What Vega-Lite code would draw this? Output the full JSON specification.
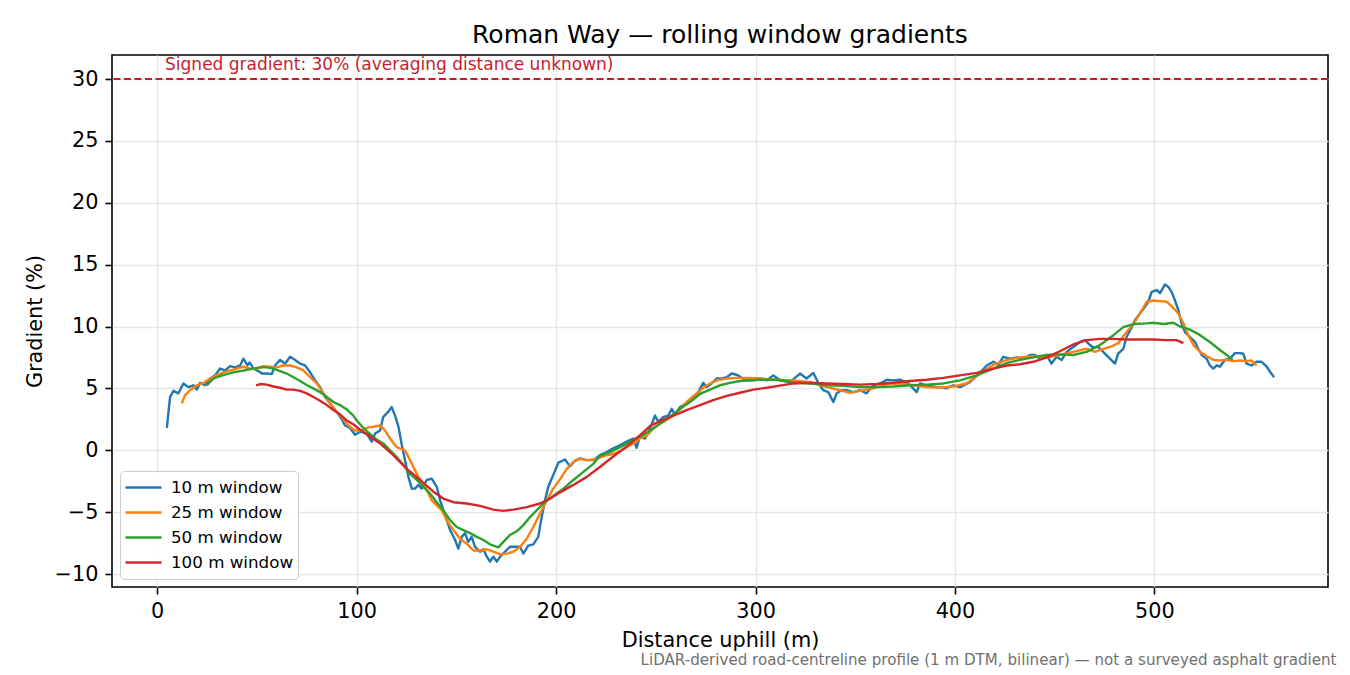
{
"$schema":"https://vega.github.io/schema/vega-lite/v6.json",
"width":1216,"height":532,
"autosize":{"type":"none"},
"padding":{"left":112,"top":55,"right":22,"bottom":88},
"background":"white",
"config":{"font":"DejaVu Sans","view":{"stroke":"black","strokeWidth":1.6}},
"title":{"text":"Roman Way — rolling window gradients","fontSize":25,"fontWeight":"normal","font":"DejaVu Sans","color":"black","anchor":"middle","frame":"group","baseline":"alphabetic","offset":12.7,"dy":26},
"layer":[
{"layer":[
{"data":{"values":[
{"d":4.9,"g":1.8,"w":"10 m window"},{"d":6.5,"g":4.3,"w":"10 m window"},{"d":8.2,"g":4.8,"w":"10 m window"},{"d":10.7,"g":4.6,"w":"10 m window"},{"d":13.2,"g":5.4,"w":"10 m window"},{"d":15.7,"g":5.1,"w":"10 m window"},{"d":18.2,"g":5.25,"w":"10 m window"},{"d":19.9,"g":4.9,"w":"10 m window"},{"d":21.6,"g":5.45,"w":"10 m window"},{"d":24.1,"g":5.25,"w":"10 m window"},{"d":26.6,"g":5.8,"w":"10 m window"},{"d":29.1,"g":6.05,"w":"10 m window"},{"d":31.6,"g":6.6,"w":"10 m window"},{"d":34.1,"g":6.45,"w":"10 m window"},{"d":36.6,"g":6.8,"w":"10 m window"},{"d":39.1,"g":6.7,"w":"10 m window"},{"d":41.6,"g":6.85,"w":"10 m window"},{"d":43.3,"g":7.4,"w":"10 m window"},{"d":45.3,"g":6.85,"w":"10 m window"},{"d":46.4,"g":7.1,"w":"10 m window"},{"d":48.3,"g":6.6,"w":"10 m window"},{"d":50.8,"g":6.4,"w":"10 m window"},{"d":52.5,"g":6.2,"w":"10 m window"},{"d":55,"g":6.2,"w":"10 m window"},{"d":57.5,"g":6.15,"w":"10 m window"},{"d":59.1,"g":6.85,"w":"10 m window"},{"d":61.7,"g":7.3,"w":"10 m window"},{"d":64.2,"g":7.0,"w":"10 m window"},{"d":66.7,"g":7.55,"w":"10 m window"},{"d":69.2,"g":7.3,"w":"10 m window"},{"d":71.7,"g":7.0,"w":"10 m window"},{"d":74.2,"g":6.85,"w":"10 m window"},{"d":76.7,"g":6.3,"w":"10 m window"},{"d":79.2,"g":5.65,"w":"10 m window"},{"d":81.7,"g":5.1,"w":"10 m window"},{"d":84.2,"g":4.3,"w":"10 m window"},{"d":86.7,"g":3.8,"w":"10 m window"},{"d":90,"g":3.1,"w":"10 m window"},{"d":92.6,"g":2.5,"w":"10 m window"},{"d":94.2,"g":2.0,"w":"10 m window"},{"d":96.7,"g":1.8,"w":"10 m window"},{"d":99.2,"g":1.25,"w":"10 m window"},{"d":101.8,"g":1.5,"w":"10 m window"},{"d":105.1,"g":1.35,"w":"10 m window"},{"d":107.6,"g":0.7,"w":"10 m window"},{"d":109.3,"g":1.35,"w":"10 m window"},{"d":111.8,"g":1.6,"w":"10 m window"},{"d":113.4,"g":2.7,"w":"10 m window"},{"d":115.9,"g":3.1,"w":"10 m window"},{"d":117.6,"g":3.5,"w":"10 m window"},{"d":119.3,"g":2.8,"w":"10 m window"},{"d":121,"g":1.9,"w":"10 m window"},{"d":122.6,"g":0.5,"w":"10 m window"},{"d":124.3,"g":-0.8,"w":"10 m window"},{"d":126,"g":-2.15,"w":"10 m window"},{"d":127.7,"g":-3.1,"w":"10 m window"},{"d":129.3,"g":-3.1,"w":"10 m window"},{"d":131,"g":-2.8,"w":"10 m window"},{"d":132.7,"g":-3.1,"w":"10 m window"},{"d":135.2,"g":-2.4,"w":"10 m window"},{"d":137.7,"g":-2.3,"w":"10 m window"},{"d":140.2,"g":-2.95,"w":"10 m window"},{"d":141.9,"g":-4.05,"w":"10 m window"},{"d":144.4,"g":-5.25,"w":"10 m window"},{"d":146.9,"g":-6.45,"w":"10 m window"},{"d":149.4,"g":-7.25,"w":"10 m window"},{"d":151,"g":-7.95,"w":"10 m window"},{"d":152.7,"g":-7.0,"w":"10 m window"},{"d":154.4,"g":-6.7,"w":"10 m window"},{"d":156,"g":-7.4,"w":"10 m window"},{"d":157.7,"g":-7.0,"w":"10 m window"},{"d":159.4,"g":-7.8,"w":"10 m window"},{"d":161.9,"g":-8.2,"w":"10 m window"},{"d":163.6,"g":-8.0,"w":"10 m window"},{"d":165.3,"g":-8.6,"w":"10 m window"},{"d":166.9,"g":-9.0,"w":"10 m window"},{"d":168.6,"g":-8.6,"w":"10 m window"},{"d":170.3,"g":-9.0,"w":"10 m window"},{"d":172,"g":-8.6,"w":"10 m window"},{"d":174.4,"g":-8.2,"w":"10 m window"},{"d":176.9,"g":-7.8,"w":"10 m window"},{"d":179.4,"g":-7.8,"w":"10 m window"},{"d":182,"g":-7.8,"w":"10 m window"},{"d":183.6,"g":-8.35,"w":"10 m window"},{"d":186.1,"g":-7.7,"w":"10 m window"},{"d":188.6,"g":-7.6,"w":"10 m window"},{"d":191.1,"g":-7.0,"w":"10 m window"},{"d":192.8,"g":-5.4,"w":"10 m window"},{"d":194.5,"g":-4.05,"w":"10 m window"},{"d":196.1,"g":-2.95,"w":"10 m window"},{"d":198.6,"g":-2.0,"w":"10 m window"},{"d":201.2,"g":-1.0,"w":"10 m window"},{"d":204.5,"g":-0.75,"w":"10 m window"},{"d":207,"g":-1.3,"w":"10 m window"},{"d":209.5,"g":-0.85,"w":"10 m window"},{"d":212,"g":-0.65,"w":"10 m window"},{"d":215.4,"g":-0.8,"w":"10 m window"},{"d":218.7,"g":-0.8,"w":"10 m window"},{"d":222,"g":-0.4,"w":"10 m window"},{"d":225.4,"g":-0.15,"w":"10 m window"},{"d":228.7,"g":0.15,"w":"10 m window"},{"d":232,"g":0.4,"w":"10 m window"},{"d":235.4,"g":0.7,"w":"10 m window"},{"d":238.7,"g":0.95,"w":"10 m window"},{"d":240.4,"g":0.2,"w":"10 m window"},{"d":242,"g":1.1,"w":"10 m window"},{"d":244.6,"g":0.95,"w":"10 m window"},{"d":247.1,"g":1.75,"w":"10 m window"},{"d":249.6,"g":2.8,"w":"10 m window"},{"d":251.3,"g":2.3,"w":"10 m window"},{"d":253.8,"g":2.7,"w":"10 m window"},{"d":256.3,"g":2.8,"w":"10 m window"},{"d":258,"g":3.35,"w":"10 m window"},{"d":259.6,"g":2.9,"w":"10 m window"},{"d":262.2,"g":3.5,"w":"10 m window"},{"d":265.5,"g":3.8,"w":"10 m window"},{"d":268.8,"g":4.3,"w":"10 m window"},{"d":271.3,"g":4.7,"w":"10 m window"},{"d":273.8,"g":5.45,"w":"10 m window"},{"d":275.5,"g":5.1,"w":"10 m window"},{"d":278,"g":5.4,"w":"10 m window"},{"d":280.5,"g":5.8,"w":"10 m window"},{"d":283,"g":5.8,"w":"10 m window"},{"d":285.6,"g":5.9,"w":"10 m window"},{"d":288,"g":6.2,"w":"10 m window"},{"d":290.6,"g":6.1,"w":"10 m window"},{"d":293.1,"g":5.85,"w":"10 m window"},{"d":295.6,"g":5.65,"w":"10 m window"},{"d":298.9,"g":5.65,"w":"10 m window"},{"d":302.3,"g":5.8,"w":"10 m window"},{"d":305.6,"g":5.65,"w":"10 m window"},{"d":308.9,"g":6.05,"w":"10 m window"},{"d":312.3,"g":5.65,"w":"10 m window"},{"d":317.3,"g":5.5,"w":"10 m window"},{"d":322.3,"g":6.2,"w":"10 m window"},{"d":325.6,"g":5.8,"w":"10 m window"},{"d":329,"g":6.25,"w":"10 m window"},{"d":331.6,"g":5.4,"w":"10 m window"},{"d":334,"g":4.85,"w":"10 m window"},{"d":336.5,"g":4.7,"w":"10 m window"},{"d":339,"g":3.9,"w":"10 m window"},{"d":340.7,"g":4.6,"w":"10 m window"},{"d":343.2,"g":4.85,"w":"10 m window"},{"d":345.7,"g":4.85,"w":"10 m window"},{"d":349,"g":4.7,"w":"10 m window"},{"d":352.4,"g":4.85,"w":"10 m window"},{"d":355.7,"g":4.6,"w":"10 m window"},{"d":359.1,"g":5.25,"w":"10 m window"},{"d":362.4,"g":5.4,"w":"10 m window"},{"d":365.8,"g":5.7,"w":"10 m window"},{"d":369.1,"g":5.65,"w":"10 m window"},{"d":372.4,"g":5.7,"w":"10 m window"},{"d":376.6,"g":5.4,"w":"10 m window"},{"d":380.8,"g":4.7,"w":"10 m window"},{"d":382.5,"g":5.4,"w":"10 m window"},{"d":385.8,"g":5.25,"w":"10 m window"},{"d":390.8,"g":5.1,"w":"10 m window"},{"d":395.8,"g":5.0,"w":"10 m window"},{"d":399.1,"g":5.25,"w":"10 m window"},{"d":402.5,"g":5.1,"w":"10 m window"},{"d":407.5,"g":5.5,"w":"10 m window"},{"d":412.5,"g":6.25,"w":"10 m window"},{"d":415.9,"g":6.85,"w":"10 m window"},{"d":419.2,"g":7.15,"w":"10 m window"},{"d":421.7,"g":6.9,"w":"10 m window"},{"d":424.2,"g":7.55,"w":"10 m window"},{"d":427.6,"g":7.4,"w":"10 m window"},{"d":430.9,"g":7.5,"w":"10 m window"},{"d":434.2,"g":7.4,"w":"10 m window"},{"d":437.6,"g":7.7,"w":"10 m window"},{"d":440.1,"g":7.7,"w":"10 m window"},{"d":442.6,"g":7.4,"w":"10 m window"},{"d":445.9,"g":7.7,"w":"10 m window"},{"d":448.4,"g":7.0,"w":"10 m window"},{"d":450.9,"g":7.55,"w":"10 m window"},{"d":453.5,"g":7.3,"w":"10 m window"},{"d":456,"g":7.95,"w":"10 m window"},{"d":459.3,"g":8.35,"w":"10 m window"},{"d":462.7,"g":8.75,"w":"10 m window"},{"d":465.2,"g":8.9,"w":"10 m window"},{"d":467.7,"g":8.5,"w":"10 m window"},{"d":469.4,"g":8.3,"w":"10 m window"},{"d":471.8,"g":8.35,"w":"10 m window"},{"d":474.3,"g":7.95,"w":"10 m window"},{"d":476.8,"g":7.55,"w":"10 m window"},{"d":480.2,"g":7.0,"w":"10 m window"},{"d":481.8,"g":7.8,"w":"10 m window"},{"d":484.4,"g":8.2,"w":"10 m window"},{"d":486,"g":9.15,"w":"10 m window"},{"d":488.6,"g":9.95,"w":"10 m window"},{"d":490.2,"g":10.5,"w":"10 m window"},{"d":492.7,"g":11.05,"w":"10 m window"},{"d":495.2,"g":11.6,"w":"10 m window"},{"d":496.9,"g":12.0,"w":"10 m window"},{"d":498.6,"g":12.8,"w":"10 m window"},{"d":501.1,"g":12.95,"w":"10 m window"},{"d":502.8,"g":12.7,"w":"10 m window"},{"d":505.3,"g":13.4,"w":"10 m window"},{"d":507,"g":13.2,"w":"10 m window"},{"d":508.6,"g":12.8,"w":"10 m window"},{"d":510.3,"g":12.1,"w":"10 m window"},{"d":512,"g":11.3,"w":"10 m window"},{"d":513.6,"g":10.25,"w":"10 m window"},{"d":515.3,"g":9.55,"w":"10 m window"},{"d":517.8,"g":9.15,"w":"10 m window"},{"d":520.3,"g":8.75,"w":"10 m window"},{"d":522,"g":8.2,"w":"10 m window"},{"d":523.7,"g":7.7,"w":"10 m window"},{"d":526.2,"g":7.4,"w":"10 m window"},{"d":527.8,"g":6.85,"w":"10 m window"},{"d":529.5,"g":6.6,"w":"10 m window"},{"d":531.2,"g":6.85,"w":"10 m window"},{"d":532.8,"g":6.75,"w":"10 m window"},{"d":535.3,"g":7.3,"w":"10 m window"},{"d":537.8,"g":7.4,"w":"10 m window"},{"d":540.4,"g":7.85,"w":"10 m window"},{"d":542.9,"g":7.85,"w":"10 m window"},{"d":544.5,"g":7.8,"w":"10 m window"},{"d":546.2,"g":7.0,"w":"10 m window"},{"d":548.7,"g":6.85,"w":"10 m window"},{"d":551.2,"g":7.15,"w":"10 m window"},{"d":553.7,"g":7.15,"w":"10 m window"},{"d":556.3,"g":6.75,"w":"10 m window"},{"d":557.9,"g":6.35,"w":"10 m window"},{"d":560,"g":5.9,"w":"10 m window"},
{"d":12.4,"g":3.8,"w":"25 m window"},{"d":14,"g":4.45,"w":"25 m window"},{"d":16.5,"g":4.85,"w":"25 m window"},{"d":19.9,"g":5.25,"w":"25 m window"},{"d":23.3,"g":5.45,"w":"25 m window"},{"d":26.6,"g":5.8,"w":"25 m window"},{"d":29.9,"g":6.05,"w":"25 m window"},{"d":33.2,"g":6.3,"w":"25 m window"},{"d":36.6,"g":6.45,"w":"25 m window"},{"d":39.9,"g":6.6,"w":"25 m window"},{"d":43.3,"g":6.75,"w":"25 m window"},{"d":46.6,"g":6.6,"w":"25 m window"},{"d":50,"g":6.6,"w":"25 m window"},{"d":53.3,"g":6.8,"w":"25 m window"},{"d":56.6,"g":6.75,"w":"25 m window"},{"d":60,"g":6.7,"w":"25 m window"},{"d":63.3,"g":6.85,"w":"25 m window"},{"d":66.7,"g":6.85,"w":"25 m window"},{"d":70,"g":6.7,"w":"25 m window"},{"d":73.3,"g":6.45,"w":"25 m window"},{"d":76.7,"g":5.9,"w":"25 m window"},{"d":80,"g":5.4,"w":"25 m window"},{"d":83.4,"g":4.6,"w":"25 m window"},{"d":86.7,"g":3.8,"w":"25 m window"},{"d":90,"g":3.1,"w":"25 m window"},{"d":92.5,"g":2.7,"w":"25 m window"},{"d":95,"g":2.15,"w":"25 m window"},{"d":97.5,"g":1.8,"w":"25 m window"},{"d":99.2,"g":1.6,"w":"25 m window"},{"d":102.6,"g":1.6,"w":"25 m window"},{"d":105.9,"g":1.85,"w":"25 m window"},{"d":108.4,"g":1.9,"w":"25 m window"},{"d":111.8,"g":2.0,"w":"25 m window"},{"d":114.2,"g":1.6,"w":"25 m window"},{"d":116.8,"g":0.95,"w":"25 m window"},{"d":120.1,"g":0.25,"w":"25 m window"},{"d":124.3,"g":0,"w":"25 m window"},{"d":127.7,"g":-1.1,"w":"25 m window"},{"d":131,"g":-2.15,"w":"25 m window"},{"d":134.4,"g":-2.95,"w":"25 m window"},{"d":137.7,"g":-4.05,"w":"25 m window"},{"d":141.1,"g":-4.6,"w":"25 m window"},{"d":142.7,"g":-4.85,"w":"25 m window"},{"d":145.2,"g":-5.65,"w":"25 m window"},{"d":148.5,"g":-6.45,"w":"25 m window"},{"d":151.9,"g":-7.15,"w":"25 m window"},{"d":155.2,"g":-7.55,"w":"25 m window"},{"d":158.6,"g":-8.1,"w":"25 m window"},{"d":161.9,"g":-8.1,"w":"25 m window"},{"d":165.3,"g":-8.0,"w":"25 m window"},{"d":168.6,"g":-8.2,"w":"25 m window"},{"d":171.9,"g":-8.4,"w":"25 m window"},{"d":175.3,"g":-8.35,"w":"25 m window"},{"d":178.6,"g":-8.2,"w":"25 m window"},{"d":182,"g":-7.8,"w":"25 m window"},{"d":185.3,"g":-7.15,"w":"25 m window"},{"d":188.6,"g":-6.2,"w":"25 m window"},{"d":192,"g":-5.1,"w":"25 m window"},{"d":195.3,"g":-4.05,"w":"25 m window"},{"d":198.6,"g":-3.1,"w":"25 m window"},{"d":202,"g":-2.35,"w":"25 m window"},{"d":205.4,"g":-1.5,"w":"25 m window"},{"d":208.7,"g":-0.95,"w":"25 m window"},{"d":212,"g":-0.7,"w":"25 m window"},{"d":215.4,"g":-0.8,"w":"25 m window"},{"d":218.7,"g":-0.75,"w":"25 m window"},{"d":222,"g":-0.6,"w":"25 m window"},{"d":225.4,"g":-0.4,"w":"25 m window"},{"d":228.7,"g":-0.3,"w":"25 m window"},{"d":232,"g":-0.1,"w":"25 m window"},{"d":235.4,"g":0.25,"w":"25 m window"},{"d":238.7,"g":0.55,"w":"25 m window"},{"d":242,"g":0.95,"w":"25 m window"},{"d":245.5,"g":1.2,"w":"25 m window"},{"d":248.8,"g":1.75,"w":"25 m window"},{"d":252.1,"g":2.15,"w":"25 m window"},{"d":255.5,"g":2.45,"w":"25 m window"},{"d":258.8,"g":2.8,"w":"25 m window"},{"d":262.2,"g":3.3,"w":"25 m window"},{"d":265.5,"g":3.9,"w":"25 m window"},{"d":270.5,"g":4.6,"w":"25 m window"},{"d":275.5,"g":5.25,"w":"25 m window"},{"d":280.5,"g":5.65,"w":"25 m window"},{"d":285.6,"g":5.8,"w":"25 m window"},{"d":290.6,"g":5.85,"w":"25 m window"},{"d":295.6,"g":5.85,"w":"25 m window"},{"d":302.3,"g":5.8,"w":"25 m window"},{"d":310.6,"g":5.7,"w":"25 m window"},{"d":318.9,"g":5.65,"w":"25 m window"},{"d":327.3,"g":5.5,"w":"25 m window"},{"d":335.7,"g":5.1,"w":"25 m window"},{"d":342.4,"g":4.85,"w":"25 m window"},{"d":347.4,"g":4.65,"w":"25 m window"},{"d":352.4,"g":4.8,"w":"25 m window"},{"d":359.1,"g":5.0,"w":"25 m window"},{"d":365.8,"g":5.35,"w":"25 m window"},{"d":372.4,"g":5.4,"w":"25 m window"},{"d":379.1,"g":5.25,"w":"25 m window"},{"d":385.8,"g":5.1,"w":"25 m window"},{"d":392.5,"g":5.05,"w":"25 m window"},{"d":399.2,"g":5.15,"w":"25 m window"},{"d":405.8,"g":5.4,"w":"25 m window"},{"d":412.5,"g":6.2,"w":"25 m window"},{"d":419.2,"g":6.9,"w":"25 m window"},{"d":425.9,"g":7.3,"w":"25 m window"},{"d":432.6,"g":7.5,"w":"25 m window"},{"d":439.3,"g":7.6,"w":"25 m window"},{"d":446,"g":7.5,"w":"25 m window"},{"d":452.6,"g":7.7,"w":"25 m window"},{"d":459.3,"g":7.95,"w":"25 m window"},{"d":466,"g":8.2,"w":"25 m window"},{"d":470.2,"g":7.95,"w":"25 m window"},{"d":474.3,"g":8.2,"w":"25 m window"},{"d":478.5,"g":8.4,"w":"25 m window"},{"d":481.9,"g":8.65,"w":"25 m window"},{"d":485.2,"g":9.4,"w":"25 m window"},{"d":489.4,"g":10.2,"w":"25 m window"},{"d":492.7,"g":11.05,"w":"25 m window"},{"d":496.1,"g":12.0,"w":"25 m window"},{"d":499.4,"g":12.1,"w":"25 m window"},{"d":502.8,"g":12.05,"w":"25 m window"},{"d":506.1,"g":12.0,"w":"25 m window"},{"d":508.6,"g":11.65,"w":"25 m window"},{"d":512,"g":11.05,"w":"25 m window"},{"d":514.5,"g":10.25,"w":"25 m window"},{"d":517,"g":9.3,"w":"25 m window"},{"d":519.5,"g":8.5,"w":"25 m window"},{"d":522.9,"g":7.95,"w":"25 m window"},{"d":526.2,"g":7.6,"w":"25 m window"},{"d":529.5,"g":7.3,"w":"25 m window"},{"d":532.8,"g":7.25,"w":"25 m window"},{"d":536.2,"g":7.3,"w":"25 m window"},{"d":539.5,"g":7.2,"w":"25 m window"},{"d":542.9,"g":7.25,"w":"25 m window"},{"d":546.2,"g":7.2,"w":"25 m window"},{"d":548.7,"g":7.25,"w":"25 m window"},{"d":551.2,"g":6.85,"w":"25 m window"},
{"d":24.9,"g":5.25,"w":"50 m window"},{"d":28.3,"g":5.8,"w":"50 m window"},{"d":31.6,"g":6.0,"w":"50 m window"},{"d":34.9,"g":6.15,"w":"50 m window"},{"d":38.2,"g":6.3,"w":"50 m window"},{"d":41.6,"g":6.4,"w":"50 m window"},{"d":45,"g":6.5,"w":"50 m window"},{"d":48.3,"g":6.6,"w":"50 m window"},{"d":51.6,"g":6.7,"w":"50 m window"},{"d":55,"g":6.7,"w":"50 m window"},{"d":58.3,"g":6.6,"w":"50 m window"},{"d":61.7,"g":6.4,"w":"50 m window"},{"d":65,"g":6.2,"w":"50 m window"},{"d":68.4,"g":5.9,"w":"50 m window"},{"d":71.7,"g":5.6,"w":"50 m window"},{"d":75.2,"g":5.25,"w":"50 m window"},{"d":78.3,"g":5.0,"w":"50 m window"},{"d":81.7,"g":4.7,"w":"50 m window"},{"d":85.1,"g":4.3,"w":"50 m window"},{"d":88.4,"g":3.9,"w":"50 m window"},{"d":91.7,"g":3.65,"w":"50 m window"},{"d":95.1,"g":3.3,"w":"50 m window"},{"d":98.4,"g":2.8,"w":"50 m window"},{"d":100.1,"g":2.4,"w":"50 m window"},{"d":103.4,"g":1.8,"w":"50 m window"},{"d":106.8,"g":1.3,"w":"50 m window"},{"d":110.1,"g":0.85,"w":"50 m window"},{"d":113.4,"g":0.55,"w":"50 m window"},{"d":116.8,"g":0,"w":"50 m window"},{"d":120.1,"g":-0.55,"w":"50 m window"},{"d":123.5,"g":-1.2,"w":"50 m window"},{"d":126.8,"g":-1.9,"w":"50 m window"},{"d":130.2,"g":-2.4,"w":"50 m window"},{"d":133.5,"g":-2.95,"w":"50 m window"},{"d":136.8,"g":-3.5,"w":"50 m window"},{"d":140.2,"g":-4.2,"w":"50 m window"},{"d":143.5,"g":-4.85,"w":"50 m window"},{"d":146.9,"g":-5.65,"w":"50 m window"},{"d":150.2,"g":-6.2,"w":"50 m window"},{"d":153.5,"g":-6.45,"w":"50 m window"},{"d":156.9,"g":-6.7,"w":"50 m window"},{"d":160.3,"g":-7.0,"w":"50 m window"},{"d":163.6,"g":-7.25,"w":"50 m window"},{"d":166.9,"g":-7.6,"w":"50 m window"},{"d":171.1,"g":-7.85,"w":"50 m window"},{"d":173.6,"g":-7.4,"w":"50 m window"},{"d":176.9,"g":-6.85,"w":"50 m window"},{"d":180.3,"g":-6.55,"w":"50 m window"},{"d":183.6,"g":-6.05,"w":"50 m window"},{"d":187,"g":-5.4,"w":"50 m window"},{"d":190.3,"g":-4.85,"w":"50 m window"},{"d":193.6,"g":-4.3,"w":"50 m window"},{"d":197,"g":-3.9,"w":"50 m window"},{"d":200.3,"g":-3.5,"w":"50 m window"},{"d":203.7,"g":-3.1,"w":"50 m window"},{"d":208.7,"g":-2.4,"w":"50 m window"},{"d":213.7,"g":-1.75,"w":"50 m window"},{"d":218.7,"g":-1.1,"w":"50 m window"},{"d":222,"g":-0.45,"w":"50 m window"},{"d":227.1,"g":-0.15,"w":"50 m window"},{"d":232.1,"g":0.25,"w":"50 m window"},{"d":237.1,"g":0.7,"w":"50 m window"},{"d":242.1,"g":1.1,"w":"50 m window"},{"d":247.1,"g":1.6,"w":"50 m window"},{"d":252.1,"g":2.15,"w":"50 m window"},{"d":257.1,"g":2.7,"w":"50 m window"},{"d":262.2,"g":3.35,"w":"50 m window"},{"d":267.2,"g":3.9,"w":"50 m window"},{"d":272.2,"g":4.55,"w":"50 m window"},{"d":277.1,"g":4.9,"w":"50 m window"},{"d":282.2,"g":5.25,"w":"50 m window"},{"d":287.2,"g":5.45,"w":"50 m window"},{"d":292.2,"g":5.6,"w":"50 m window"},{"d":297.2,"g":5.65,"w":"50 m window"},{"d":302.3,"g":5.7,"w":"50 m window"},{"d":310.6,"g":5.7,"w":"50 m window"},{"d":318.9,"g":5.5,"w":"50 m window"},{"d":327.3,"g":5.4,"w":"50 m window"},{"d":335.7,"g":5.25,"w":"50 m window"},{"d":344,"g":5.2,"w":"50 m window"},{"d":352.4,"g":5.1,"w":"50 m window"},{"d":360.8,"g":5.1,"w":"50 m window"},{"d":369.1,"g":5.15,"w":"50 m window"},{"d":377.5,"g":5.25,"w":"50 m window"},{"d":385.8,"g":5.3,"w":"50 m window"},{"d":394.2,"g":5.4,"w":"50 m window"},{"d":402.5,"g":5.65,"w":"50 m window"},{"d":410.9,"g":6.05,"w":"50 m window"},{"d":419.2,"g":6.6,"w":"50 m window"},{"d":425.9,"g":7.05,"w":"50 m window"},{"d":432.6,"g":7.3,"w":"50 m window"},{"d":439.3,"g":7.5,"w":"50 m window"},{"d":446,"g":7.7,"w":"50 m window"},{"d":452.6,"g":7.75,"w":"50 m window"},{"d":459.3,"g":7.7,"w":"50 m window"},{"d":466,"g":7.95,"w":"50 m window"},{"d":472.7,"g":8.5,"w":"50 m window"},{"d":479.4,"g":9.3,"w":"50 m window"},{"d":484.4,"g":9.95,"w":"50 m window"},{"d":489.4,"g":10.2,"w":"50 m window"},{"d":496.1,"g":10.25,"w":"50 m window"},{"d":499.4,"g":10.3,"w":"50 m window"},{"d":504.5,"g":10.2,"w":"50 m window"},{"d":509.5,"g":10.3,"w":"50 m window"},{"d":512.8,"g":10.0,"w":"50 m window"},{"d":517.8,"g":9.75,"w":"50 m window"},{"d":522.9,"g":9.3,"w":"50 m window"},{"d":527.8,"g":8.75,"w":"50 m window"},{"d":532.8,"g":8.1,"w":"50 m window"},{"d":536.2,"g":7.7,"w":"50 m window"},{"d":539.2,"g":7.3,"w":"50 m window"},
{"d":49.6,"g":5.25,"w":"100 m window"},{"d":51.6,"g":5.35,"w":"100 m window"},{"d":55,"g":5.3,"w":"100 m window"},{"d":58.3,"g":5.15,"w":"100 m window"},{"d":61.7,"g":5.05,"w":"100 m window"},{"d":65,"g":4.9,"w":"100 m window"},{"d":68.3,"g":4.9,"w":"100 m window"},{"d":71.7,"g":4.8,"w":"100 m window"},{"d":75,"g":4.6,"w":"100 m window"},{"d":78.4,"g":4.3,"w":"100 m window"},{"d":81.7,"g":4.0,"w":"100 m window"},{"d":85.1,"g":3.65,"w":"100 m window"},{"d":88.4,"g":3.25,"w":"100 m window"},{"d":91.7,"g":2.9,"w":"100 m window"},{"d":95.1,"g":2.4,"w":"100 m window"},{"d":98.4,"g":2.1,"w":"100 m window"},{"d":101.4,"g":1.7,"w":"100 m window"},{"d":105.1,"g":1.3,"w":"100 m window"},{"d":111.8,"g":0.55,"w":"100 m window"},{"d":118.4,"g":-0.4,"w":"100 m window"},{"d":125.2,"g":-1.5,"w":"100 m window"},{"d":131.8,"g":-2.4,"w":"100 m window"},{"d":138.5,"g":-3.35,"w":"100 m window"},{"d":143.5,"g":-3.9,"w":"100 m window"},{"d":148.5,"g":-4.2,"w":"100 m window"},{"d":155.2,"g":-4.3,"w":"100 m window"},{"d":161.9,"g":-4.5,"w":"100 m window"},{"d":168.6,"g":-4.8,"w":"100 m window"},{"d":173.6,"g":-4.9,"w":"100 m window"},{"d":178.6,"g":-4.8,"w":"100 m window"},{"d":185.3,"g":-4.6,"w":"100 m window"},{"d":192,"g":-4.3,"w":"100 m window"},{"d":197,"g":-3.9,"w":"100 m window"},{"d":202,"g":-3.4,"w":"100 m window"},{"d":208.7,"g":-2.8,"w":"100 m window"},{"d":215.4,"g":-2.15,"w":"100 m window"},{"d":222,"g":-1.35,"w":"100 m window"},{"d":228.7,"g":-0.5,"w":"100 m window"},{"d":235.4,"g":0.3,"w":"100 m window"},{"d":242,"g":1.2,"w":"100 m window"},{"d":247.1,"g":1.95,"w":"100 m window"},{"d":252.1,"g":2.35,"w":"100 m window"},{"d":258.8,"g":2.8,"w":"100 m window"},{"d":265.5,"g":3.25,"w":"100 m window"},{"d":272.2,"g":3.65,"w":"100 m window"},{"d":278.8,"g":4.05,"w":"100 m window"},{"d":285.6,"g":4.4,"w":"100 m window"},{"d":292.2,"g":4.65,"w":"100 m window"},{"d":298.9,"g":4.9,"w":"100 m window"},{"d":305.6,"g":5.05,"w":"100 m window"},{"d":311.4,"g":5.2,"w":"100 m window"},{"d":318.9,"g":5.4,"w":"100 m window"},{"d":327.3,"g":5.45,"w":"100 m window"},{"d":335.7,"g":5.4,"w":"100 m window"},{"d":344,"g":5.35,"w":"100 m window"},{"d":352.4,"g":5.3,"w":"100 m window"},{"d":360.8,"g":5.35,"w":"100 m window"},{"d":369.1,"g":5.45,"w":"100 m window"},{"d":377.4,"g":5.6,"w":"100 m window"},{"d":385.8,"g":5.7,"w":"100 m window"},{"d":394.1,"g":5.85,"w":"100 m window"},{"d":402.5,"g":6.05,"w":"100 m window"},{"d":410.9,"g":6.25,"w":"100 m window"},{"d":419.2,"g":6.6,"w":"100 m window"},{"d":425.9,"g":6.85,"w":"100 m window"},{"d":432.6,"g":6.95,"w":"100 m window"},{"d":439.3,"g":7.15,"w":"100 m window"},{"d":446,"g":7.5,"w":"100 m window"},{"d":452.6,"g":8.0,"w":"100 m window"},{"d":459.3,"g":8.55,"w":"100 m window"},{"d":466,"g":8.9,"w":"100 m window"},{"d":472.7,"g":9.0,"w":"100 m window"},{"d":479.4,"g":9.0,"w":"100 m window"},{"d":486,"g":8.95,"w":"100 m window"},{"d":492.7,"g":8.95,"w":"100 m window"},{"d":499.4,"g":8.95,"w":"100 m window"},{"d":506.1,"g":8.9,"w":"100 m window"},{"d":511.1,"g":8.9,"w":"100 m window"},{"d":514.5,"g":8.65,"w":"100 m window"}
]},
"mark":{"type":"line","strokeWidth":2.4,"strokeJoin":"round","strokeCap":"butt"},
"encoding":{
"x":{"field":"d","type":"quantitative","title":"Distance uphill (m)","scale":{"domain":[-22.6,587],"nice":false,"zero":false},
"axis":{"values":[0,100,200,300,400,500],"domain":false,"ticks":true,"tickSize":7,"tickWidth":1.6,"tickColor":"black","labelFontSize":20.8,"labelColor":"black","labelPadding":7,"labelFont":"DejaVu Sans","grid":true,"gridColor":"#e6e6e6","gridWidth":1.3,"titleFontSize":20.8,"titleFontWeight":"normal","titleColor":"black","titleFont":"DejaVu Sans","titlePadding":10}},
"y":{"field":"g","type":"quantitative","title":"Gradient (%)","scale":{"domain":[-11.05,31.94],"nice":false,"zero":false},
"axis":{"values":[-10,-5,0,5,10,15,20,25,30],"domain":false,"ticks":true,"tickSize":7,"tickWidth":1.6,"tickColor":"black","labelFontSize":20.8,"labelColor":"black","labelPadding":7,"labelFont":"DejaVu Sans","grid":true,"gridColor":"#e6e6e6","gridWidth":1.3,"titleFontSize":20.8,"titleFontWeight":"normal","titleColor":"black","titleFont":"DejaVu Sans","titlePadding":9}},
"color":{"field":"w","type":"nominal","scale":{"domain":["10 m window","25 m window","50 m window","100 m window"],"range":["#1f77b4","#ff7f0e","#2ca02c","#d62728"]},
"legend":{"title":null,"orient":"bottom-left","offset":8,"fillColor":"rgba(255,255,255,0.85)","strokeColor":"#cccccc","cornerRadius":4,"padding":4,"symbolType":"stroke","symbolSize":1296,"symbolStrokeWidth":2.4,"labelFontSize":16.7,"labelFont":"DejaVu Sans","labelColor":"black","labelOffset":8,"rowPadding":0,"clipHeight":25}}
}},
{"data":{"values":[{"g":30}]},
"mark":{"type":"rule","color":"#c41e2e","strokeWidth":1.8,"strokeDash":[7,3.5]},
"encoding":{"y":{"field":"g","type":"quantitative","title":"Gradient (%)"}}},
{"data":{"values":[{"d":4,"g":30,"label":"Signed gradient: 30% (averaging distance unknown)"}]},
"mark":{"type":"text","align":"left","baseline":"alphabetic","dy":-9,"fontSize":17,"font":"DejaVu Sans","color":"#c41e2e"},
"encoding":{"x":{"field":"d","type":"quantitative","title":"Distance uphill (m)"},"y":{"field":"g","type":"quantitative","title":"Gradient (%)"},"text":{"field":"label"}}}
]},
{"data":{"values":[{"p":0}]},
"mark":{"type":"point","opacity":0},
"encoding":{"x":{"field":"p","type":"quantitative","scale":{"domain":[0,1]},"title":"LiDAR-derived road-centreline profile (1 m DTM, bilinear) — not a surveyed asphalt gradient",
"axis":{"orient":"bottom","offset":65,"labels":false,"ticks":false,"domain":false,"grid":false,"titleFontSize":15.1,"titleFont":"DejaVu Sans","titleFontWeight":"normal","titleColor":"#707070","titleAnchor":"end","titleAlign":"right","titleX":1224,"titlePadding":0}}}}
],
"resolve":{"scale":{"x":"independent"}}
}
